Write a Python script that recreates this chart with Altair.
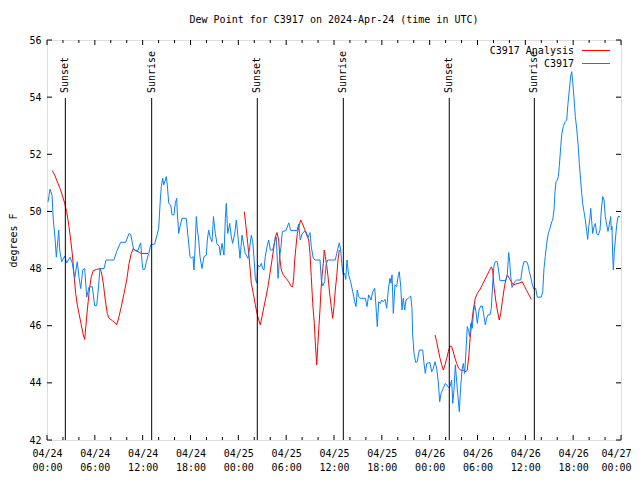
import altair as alt
import pandas as pd

# Observed dew point (C3917): hours since 2024-04-24 00:00 UTC, degrees F
obs_hours = [0.13, 0.38, 0.63, 0.79, 1.00, 1.17, 1.47, 1.59, 1.84, 2.22, 2.47, 2.88, 3.17, 3.47, 3.80, 4.01,
             4.23, 4.48, 4.73, 4.98, 5.27, 5.68, 5.98, 6.23, 6.43, 6.65, 7.15, 7.40, 8.40, 8.74, 9.24, 9.87,
             10.29, 10.50, 10.75, 10.91, 11.41, 11.63, 11.75, 11.92, 12.04, 12.26, 12.46, 12.76, 13.01, 13.51,
             13.80, 14.01, 14.21, 14.34, 14.51, 14.64, 14.84, 14.96, 15.09, 15.27, 15.52, 15.68, 15.93, 16.09,
             16.27, 16.34, 16.52, 16.68, 16.93, 17.47, 17.69, 17.94, 18.10, 18.31, 18.44, 18.60, 18.73, 18.85,
             19.03, 19.19, 19.44, 19.69, 19.98, 20.11, 20.28, 20.45, 20.70, 20.88, 21.11, 21.32, 21.61, 21.74,
             21.95, 22.20, 22.37, 22.49, 22.67, 22.92, 23.12, 23.29, 23.55, 23.75, 23.96, 24.21, 24.46, 24.67,
             24.87, 25.21, 25.38, 25.63, 25.80, 25.97, 26.13, 26.30, 26.47, 26.68, 26.88, 27.06, 27.22, 27.38,
             27.60, 27.81, 28.01, 28.31, 28.56, 28.76, 28.98, 29.19, 29.35, 29.52, 29.98, 30.32, 30.57, 31.36,
             31.57, 31.77, 31.99, 32.24, 32.49, 32.74, 32.99, 33.15, 33.40, 33.65, 34.24, 34.41, 34.58, 34.83,
             35.00, 35.21, 36.16, 36.34, 36.50, 36.67, 36.84, 36.97, 37.17, 37.34, 37.47, 37.63, 37.84, 38.09,
             38.35, 38.60, 38.76, 38.92, 39.10, 39.26, 39.93, 40.14, 40.35, 40.64, 40.86, 41.11, 41.27, 41.43,
             41.61, 41.81, 41.98, 42.18, 42.40, 42.61, 42.81, 43.02, 43.15, 43.28, 43.44, 43.65, 43.86, 44.07,
             44.19, 44.37, 44.53, 44.69, 44.87, 45.03, 45.32, 45.62, 45.78, 45.87, 46.04, 46.25, 46.45, 46.70,
             47.13, 47.29, 47.45, 47.63, 48.04, 48.25, 48.46, 48.67, 48.88, 49.08, 49.26, 49.42, 49.71, 49.96,
             50.14, 50.34, 50.55, 50.76, 50.89, 51.05, 51.22, 51.39, 51.55, 51.72, 51.89, 52.06, 52.22, 52.39,
             52.56, 52.72, 52.90, 53.02, 53.15, 53.35, 53.47, 53.65, 53.81, 53.98, 54.19, 54.40, 54.60, 54.82,
             54.98, 55.15, 55.32, 55.57, 55.73, 55.91, 56.07, 56.23, 56.48, 56.66, 56.82, 57.57, 57.74, 57.91,
             58.04, 58.17, 58.33, 58.49, 58.67, 58.92, 59.42, 59.62, 59.83, 60.17, 60.34, 60.50, 60.68, 60.88,
             61.09, 61.30, 61.50, 62.00, 62.18, 62.34, 62.50, 62.68, 62.88, 63.09, 63.31, 63.43, 63.60, 63.72,
             63.85, 64.01, 64.14, 64.26, 64.44, 64.56, 64.76, 64.98, 65.19, 65.35, 65.52, 65.69, 65.82, 65.94,
             66.11, 66.27, 66.44, 66.64, 66.77, 66.94, 67.07, 67.19, 67.36, 67.52, 67.70, 67.82, 67.95, 68.08,
             68.20, 68.33, 68.45, 68.61, 68.78, 68.95, 69.15, 69.37, 69.53, 69.71, 69.87, 70.03, 70.21, 70.37,
             70.53, 70.71, 70.78, 70.87, 70.96, 71.04, 71.16, 71.29, 71.46, 71.62, 71.87]
obs_values = [50.34, 50.78, 50.57, 49.70, 49.10, 48.40, 49.35, 48.65, 48.24, 48.44, 48.20, 48.40, 48.20, 47.66, 48.24, 47.70,
              47.30, 47.95, 48.00, 47.00, 47.35, 47.37, 46.70, 46.70, 47.25, 48.00, 48.00, 48.30, 48.30, 48.60, 48.92, 48.92,
              49.23, 49.20, 48.83, 48.65, 48.63, 48.83, 48.90, 48.24, 47.97, 47.97, 48.24, 48.53, 48.83, 48.86,
              49.17, 49.41, 50.40, 50.87, 51.16, 50.93, 51.10, 51.22, 50.93, 50.28, 50.22, 49.88, 49.88, 50.28,
              50.46, 49.99, 49.23, 49.47, 49.76, 49.76, 49.11, 48.42, 48.36, 48.42, 47.95, 48.88, 49.82, 49.41,
              49.00, 48.42, 48.00, 48.42, 48.47, 49.00, 49.35, 49.11, 48.94, 49.82, 49.23, 48.88, 48.77, 48.47,
              48.88, 48.47, 49.76, 50.28, 49.23, 49.58, 49.11, 48.88, 49.23, 49.70, 49.11, 48.36, 49.17, 48.83,
              48.53, 48.36, 48.65, 49.17, 48.94, 48.36, 47.66, 47.49, 48.12, 48.06, 48.18, 48.00, 47.95, 48.42,
              48.77, 49.00, 48.65, 48.65, 48.94, 49.11, 47.66, 48.42, 48.77, 49.30, 49.33, 49.60, 49.33, 49.33,
              49.56, 49.00, 49.20, 49.30, 49.30, 49.09, 49.26, 48.77, 48.36, 48.30, 48.30, 47.60, 47.39, 47.54,
              48.12, 48.30, 48.30, 48.53, 48.71, 48.90, 48.65, 48.18, 47.78, 47.83, 47.62, 48.30, 47.78, 47.54,
              47.19, 46.84, 46.67, 47.25, 47.01, 46.96, 46.96, 46.67, 47.08, 46.90, 47.19, 47.31, 46.67, 45.97,
              46.84, 46.78, 46.90, 46.84, 46.92, 46.61, 47.25, 47.66, 47.49, 47.78, 46.43, 47.43, 47.37, 47.78,
              47.89, 47.37, 46.55, 46.96, 46.55, 46.90, 46.96, 47.04, 46.61, 45.68, 45.03, 44.71, 44.74, 45.15,
              45.15, 44.68, 44.33, 44.68, 44.71, 44.39, 44.51, 44.74, 44.51, 44.04, 43.34, 43.63, 43.81, 43.98,
              43.92, 43.84, 43.87, 44.10, 43.28, 43.75, 44.63, 44.04, 43.52, 42.99, 43.87, 44.45, 44.68, 44.33,
              45.15, 45.97, 45.79, 45.62, 46.08, 45.91, 46.38, 46.73, 46.49, 46.08, 46.55, 46.69, 46.69, 46.32,
              46.03, 46.26, 46.38, 46.38, 46.61, 47.49, 48.12, 48.24, 48.24, 47.89, 47.58, 47.58, 47.78, 48.56,
              48.24, 47.72, 47.34, 47.43, 47.54, 47.60, 47.60, 48.00, 48.24, 48.24, 48.12, 47.89, 47.70, 47.43,
              47.27, 47.31, 47.00, 47.00, 47.19, 48.00, 48.42, 48.88, 49.23, 49.41, 49.64, 49.70, 50.05, 50.69,
              51.04, 51.10, 51.22, 51.57, 52.27, 52.68, 52.97, 53.14, 53.20, 53.78, 54.25, 54.74, 54.89, 54.54,
              53.96, 53.32, 52.91, 52.27, 51.68, 51.10, 50.63, 50.28, 49.99, 49.70, 49.30, 49.02, 49.47, 49.70,
              50.11, 49.64, 49.23, 49.47, 49.58, 49.23, 49.17, 49.35, 50.05, 50.52, 50.40, 49.82, 49.53, 49.30,
              49.53, 49.82, 49.35, 49.47, 48.42, 47.95, 48.59, 49.00, 49.53, 49.82, 49.82]

# Analysis dew point (C3917 Analysis), three separate runs
ana_hours_1 = [0.66, 0.97, 1.29, 1.63, 1.92, 2.22, 2.47, 2.76, 2.97, 3.17, 3.39, 3.60, 3.80, 4.05, 4.30, 4.55,
               4.73, 4.89, 5.06, 5.31, 5.56, 5.81, 6.23, 6.65, 6.81, 7.06, 7.31, 7.56, 7.78, 8.19, 8.49, 8.74,
               9.03, 9.32, 9.66, 10.00, 10.29, 10.57, 10.83, 11.08, 11.63, 11.83, 12.67]
ana_values_1 = [51.43, 51.27, 51.04, 50.81, 50.57, 50.28, 49.99, 49.47, 49.00, 48.53, 47.78, 47.13, 46.73, 46.38, 46.03, 45.68,
                45.52, 46.03, 46.55, 47.25, 47.72, 47.93, 47.97, 48.00, 47.89, 47.49, 46.90, 46.43, 46.26, 46.18, 46.11, 46.03,
                46.32, 46.67, 47.13, 47.60, 48.18, 48.53, 48.71, 48.63, 48.56, 48.53, 48.53]
ana_hours_2 = [24.75, 24.96, 25.18, 25.38, 25.63, 25.88, 26.13, 26.34, 26.56, 26.76, 26.97, 27.22, 27.47, 27.72,
               27.97, 28.22, 28.47, 28.64, 28.85, 29.06, 29.23, 29.39, 29.64, 29.98, 30.32, 30.64, 30.82, 30.95,
               31.07, 31.23, 31.40, 31.65, 31.82, 32.07, 32.32, 32.58, 32.83, 32.99, 33.15, 33.33, 33.53, 33.65,
               33.83, 33.96, 34.08, 34.24, 34.37, 34.49, 34.66, 34.78, 34.91, 35.08, 35.25, 35.41, 35.62, 35.84,
               36.00, 36.16, 36.34, 36.50, 36.67]
ana_values_2 = [49.99, 49.47, 48.88, 48.30, 47.49, 47.13, 46.73, 46.43, 46.20, 46.03, 46.32, 46.67, 47.01, 47.37,
                47.83, 48.30, 48.77, 49.11, 49.26, 49.00, 48.30, 47.95, 47.78, 47.66, 47.54, 47.37, 47.37, 47.72,
                48.30, 48.77, 49.23, 49.53, 49.70, 49.56, 49.37, 49.17, 49.00, 48.53, 47.72, 46.78, 46.08, 45.44,
                44.63, 45.27, 45.85, 46.55, 47.25, 47.72, 48.18, 48.65, 48.42, 48.12, 47.72, 47.25, 46.73, 46.26,
                46.67, 47.25, 47.72, 48.30, 48.65]
ana_hours_3 = [48.67, 48.88, 49.08, 49.30, 49.51, 49.71, 49.92, 50.14, 50.34, 50.55, 50.76, 50.96, 51.18, 51.39,
               51.64, 51.89, 52.22, 52.56, 52.72, 52.90, 53.06, 53.22, 53.47, 53.72, 53.98, 54.31, 54.60, 54.90,
               55.23, 55.48, 55.73, 55.91, 56.07, 56.28, 56.48, 56.73, 56.91, 57.11, 57.32, 57.54, 57.74, 57.99,
               58.24, 58.49, 58.79, 59.21, 59.62, 59.92, 60.17, 60.46, 60.75]
ana_values_3 = [45.68, 45.44, 45.15, 44.86, 44.63, 44.45, 44.63, 44.86, 45.09, 45.29, 45.27, 45.09, 44.86, 44.68,
                44.51, 44.45, 44.43, 44.39, 44.45, 44.91, 45.50, 45.97, 46.55, 46.96, 47.13, 47.27, 47.43, 47.60,
                47.78, 47.93, 48.06, 47.95, 47.37, 46.90, 46.55, 46.20, 46.43, 46.84, 47.25, 47.60, 47.78, 47.66,
                47.54, 47.43, 47.46, 47.49, 47.54, 47.37, 47.23, 47.08, 46.92]

# Sunset / sunrise markers (hours since start)
event_hours = [2.30, 13.13, 26.38, 37.17, 50.46, 61.13]
event_labels = ["Sunset", "Sunrise", "Sunset", "Sunrise", "Sunset", "Sunrise"]

# Axis ticks
x_major = [0, 6, 12, 18, 24, 30, 36, 42, 48, 54, 60, 66, 72]
x_minor = [2, 4, 8, 10, 14, 16, 20, 22, 26, 28, 32, 34, 38, 40, 44, 46, 50, 52, 56, 58, 62, 64, 68, 70]
y_ticks = [42, 44, 46, 48, 50, 52, 54, 56]

series_names = ["C3917 Analysis", "C3917"]
series_colors = ["#ff0000", "#0a80ff"]

FONT = "DejaVu Sans Mono"
W, H = 574, 400

obs = pd.DataFrame({"hour": obs_hours, "value": obs_values, "series": "C3917", "seg": "obs"})
ana = pd.concat([
    pd.DataFrame({"hour": ana_hours_1, "value": ana_values_1, "seg": "a1"}),
    pd.DataFrame({"hour": ana_hours_2, "value": ana_values_2, "seg": "a2"}),
    pd.DataFrame({"hour": ana_hours_3, "value": ana_values_3, "seg": "a3"}),
])
ana["series"] = "C3917 Analysis"
events = pd.DataFrame({"hour": event_hours, "label": event_labels})
xmaj = pd.DataFrame({"hour": x_major})
xmin = pd.DataFrame({"hour": x_minor})
yt = pd.DataFrame({"value": y_ticks})

label_expr = ("['04/' + (24 + floor(datum.value / 24)), "
              "(datum.value % 24 < 10 ? '0' : '') + (datum.value % 24) + ':00']")

# Shared encodings (identical in every layer so the axes merge cleanly)
X = alt.X("hour:Q", scale=alt.Scale(domain=[0, 72], nice=False, zero=False),
          axis=alt.Axis(values=x_major, labelExpr=label_expr, ticks=False, domain=False, grid=False,
                        title=None, labelPadding=8, labelLineHeight=14, labelFont=FONT, labelFontSize=10,
                        labelColor="black", labelAngle=0, labelOverlap=False, labelFlush=False,
                        labelOffset={"condition": {"test": "datum.value == 72", "value": -5}, "value": 0}))
Y = alt.Y("value:Q", scale=alt.Scale(domain=[42, 56], nice=False, zero=False),
          axis=alt.Axis(values=y_ticks, format="d", ticks=False, domain=False, grid=False,
                        title="degrees F", titleFont=FONT, titleFontSize=10, titleFontWeight="normal",
                        titleColor="black", titlePadding=10, labelPadding=6, labelFont=FONT,
                        labelFontSize=10, labelColor="black", labelFlush=False))

color_scale = alt.Scale(domain=series_names, range=series_colors)
C = alt.Color("series:N", scale=color_scale, legend=None)

ana_line = alt.Chart(ana).mark_line(strokeWidth=1).encode(x=X, y=Y, color=C, detail="seg:N")
obs_line = alt.Chart(obs).mark_line(strokeWidth=1).encode(x=X, y=Y, color=C, detail="seg:N")

ev_rules = alt.Chart(events).mark_rule(color="black", strokeWidth=1).encode(
    x=X, y=alt.value(58), y2=alt.value(H),
)
ev_text = alt.Chart(events).mark_text(angle=270, align="left", baseline="middle", font=FONT,
                                      fontSize=10, color="black").encode(
    x=X, y=alt.value(53), text="label:N",
)

def xticks(df, y0, y1):
    return alt.Chart(df).mark_rule(color="black", strokeWidth=1).encode(
        x=X, y=alt.value(y0), y2=alt.value(y1))

def yticks(x0, x1):
    return alt.Chart(yt).mark_rule(color="black", strokeWidth=1).encode(
        y=Y, x=alt.value(x0), x2=alt.value(x1))

tick_layers = [
    xticks(xmaj, H, H - 5), xticks(xmaj, 0, 5),
    xticks(xmin, H, H - 3), xticks(xmin, 0, 3),
    yticks(0, 5), yticks(W, W - 5),
]

# Key (gnuplot style: label on the left, line sample on the right), colours via the shared scale
def key_row(name, row_y):
    d = pd.DataFrame({"series": [name]})
    txt = alt.Chart(d).mark_text(align="right", baseline="middle", font=FONT, fontSize=10,
                                 color="black").encode(text="series:N", x=alt.value(527), y=alt.value(row_y))
    sample = alt.Chart(d).mark_rule(strokeWidth=1).encode(
        color=C, x=alt.value(535), x2=alt.value(563), y=alt.value(row_y))
    return [txt, sample]

key_layers = key_row(series_names[0], 10.5) + key_row(series_names[1], 23.5)

chart = alt.layer(
    ana_line, obs_line, ev_rules, ev_text, *tick_layers, *key_layers
).properties(
    width=W, height=H,
    title=alt.TitleParams("Dew Point for C3917 on 2024-Apr-24 (time in UTC)", font=FONT, fontSize=10,
                          fontWeight="normal", color="black", anchor="middle", offset=10),
    autosize=alt.AutoSizeParams(type="none"),
    padding={"left": 39, "top": 32, "right": 11, "bottom": 32},
).configure_view(
    stroke="black", strokeWidth=1
).configure(
    background="white"
)

chart.save("out.html", embed_options={"renderer": "svg", "actions": False})
